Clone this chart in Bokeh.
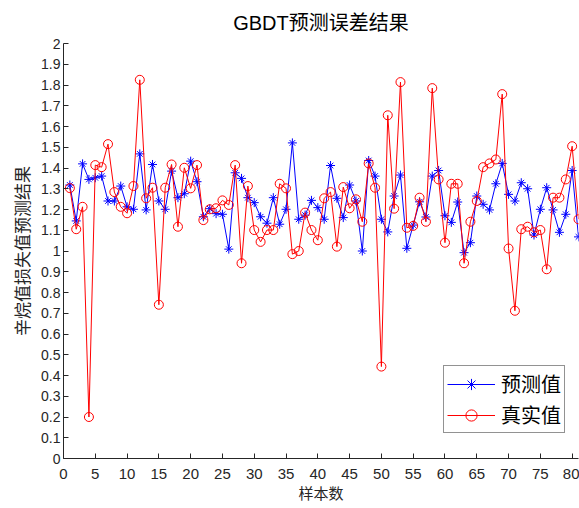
from bokeh.plotting import figure
from bokeh.models import Range1d, FixedTicker, Legend, LegendItem, ColumnDataSource
from bokeh.embed import file_html
from bokeh.resources import INLINE

sample_index = list(range(1, 82))
predicted = [1.318, 1.145, 1.420, 1.345, 1.353, 1.361, 1.241, 1.241, 1.313, 1.213,
             1.201, 1.468, 1.198, 1.417, 1.241, 1.201, 1.385, 1.257, 1.276, 1.433,
             1.334, 1.165, 1.204, 1.180, 1.177, 1.009, 1.377, 1.350, 1.257, 1.233,
             1.165, 1.134, 1.257, 1.129, 1.201, 1.521, 1.153, 1.173, 1.244, 1.209,
             1.153, 1.412, 1.254, 1.161, 1.318, 1.241, 1.000, 1.436, 1.361, 1.153,
             1.092, 1.265, 1.366, 1.013, 1.125, 1.237, 1.164, 1.361, 1.388, 1.170,
             1.138, 1.236, 0.992, 1.040, 1.265, 1.225, 1.198, 1.324, 1.422, 1.273,
             1.241, 1.329, 1.300, 1.077, 1.201, 1.305, 1.198, 1.090, 1.177, 1.388,
             1.068]
actual = [1.303, 1.105, 1.213, 0.200, 1.414, 1.404, 1.515, 1.284, 1.213, 1.182,
          1.313, 1.825, 1.254, 1.305, 0.741, 1.305, 1.417, 1.117, 1.401, 1.302,
          1.414, 1.149, 1.201, 1.206, 1.244, 1.222, 1.414, 0.941, 1.313, 1.101,
          1.044, 1.101, 1.101, 1.324, 1.302, 0.985, 1.000, 1.185, 1.101, 1.052,
          1.254, 1.284, 1.021, 1.308, 1.206, 1.249, 1.141, 1.422, 1.305, 0.443,
          1.654, 1.204, 1.814, 1.112, 1.121, 1.257, 1.141, 1.785, 1.345, 1.040,
          1.324, 1.324, 0.941, 1.141, 1.241, 1.404, 1.422, 1.441, 1.756, 1.012,
          0.712, 1.105, 1.117, 1.090, 1.101, 0.912, 1.257, 1.257, 1.345, 1.505,
          1.153]
x_ticks = [0, 5, 10, 15, 20, 25, 30, 35, 40, 45, 50, 55, 60, 65, 70, 75, 80]
y_ticks = [0.0, 0.1, 0.2, 0.3, 0.4, 0.5, 0.6, 0.7, 0.8, 0.9, 1.0,
           1.1, 1.2, 1.3, 1.4, 1.5, 1.6, 1.7, 1.8, 1.9, 2.0]
y_tick_labels = ["0", "0.1", "0.2", "0.3", "0.4", "0.5", "0.6", "0.7", "0.8", "0.9", "1",
                 "1.1", "1.2", "1.3", "1.4", "1.5", "1.6", "1.7", "1.8", "1.9", "2"]
title_text = "GBDT预测误差结果"
x_label = "样本数"
y_label = "辛烷值损失值预测结果"
series_names = ["预测值", "真实值"]

FONT = "'Liberation Sans', 'Noto Sans CJK SC'"
CJK = "'Noto Sans CJK SC'"
AX = "#262626"

src = ColumnDataSource(data=dict(x=sample_index, pred=predicted, act=actual))

p = figure(width=579, height=508, x_range=Range1d(0, 81), y_range=Range1d(0, 2),
           output_backend="svg", toolbar_location=None, title=title_text,
           min_border_left=63, min_border_right=1, min_border_top=42, min_border_bottom=50)
p.title.align = "center"
p.title.text_font = FONT
p.title.text_font_size = "20px"
p.title.text_font_style = "normal"
p.title.text_color = "#000000"
p.title.standoff = 19
p.background_fill_color = "white"
p.border_fill_color = "white"
p.outline_line_color = None
p.xgrid.visible = False
p.ygrid.visible = False

for ax in (p.xaxis[0], p.yaxis[0]):
    ax.axis_line_color = AX
    ax.major_tick_line_color = AX
    ax.major_tick_in = 5
    ax.major_tick_out = 0
    ax.minor_tick_in = 0
    ax.minor_tick_out = 0
    ax.major_label_text_font = FONT
    ax.major_label_text_font_size = "15px"
    ax.major_label_text_color = AX
    ax.axis_label_text_font = CJK
    ax.axis_label_text_font_style = "normal"
    ax.axis_label_text_font_size = "15px"
    ax.axis_label_text_color = AX

p.xaxis.ticker = FixedTicker(ticks=x_ticks)
p.xaxis.axis_label = x_label
p.xaxis.major_label_standoff = 10
p.xaxis.axis_label_standoff = 0
p.yaxis.ticker = FixedTicker(ticks=y_ticks)
p.yaxis.major_label_overrides = dict(zip(y_ticks, y_tick_labels))
p.yaxis.major_label_text_font_size = "14px"
p.yaxis.axis_label = y_label
p.yaxis.axis_label_text_font_size = "17px"
p.yaxis.major_label_standoff = 3
p.yaxis.axis_label_standoff = 4

l1 = p.line("x", "pred", source=src, line_color="#0000FF", line_width=1)
s1a = p.scatter("x", "pred", source=src, marker="cross", size=9, line_color="#0000FF", line_width=1)
s1b = p.scatter("x", "pred", source=src, marker="x", size=8, line_color="#0000FF", line_width=1)
l2 = p.line("x", "act", source=src, line_color="#FF0000", line_width=1)
s2 = p.scatter("x", "act", source=src, marker="circle", size=9, line_color="#FF0000",
               fill_color=None, line_width=1)

legend = Legend(items=[LegendItem(label=series_names[0], renderers=[l1, s1a, s1b]),
                       LegendItem(label=series_names[1], renderers=[l2, s2])],
                location=(380, 25), label_text_font=CJK, label_text_font_size="20px",
                label_text_color="#000000",
                glyph_width=48, glyph_height=28, label_height=28, spacing=2, padding=3,
                margin=0, label_standoff=6, border_line_color=AX, border_line_width=1,
                background_fill_color="white", background_fill_alpha=1)
p.add_layout(legend)

open("out.html", "w").write(file_html(p, INLINE))
